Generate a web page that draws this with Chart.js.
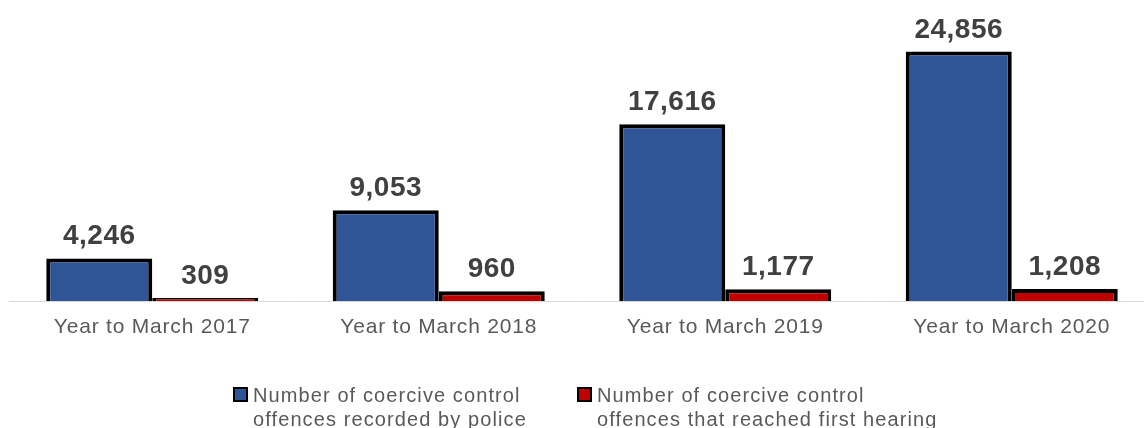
<!DOCTYPE html>
<html>
<head>
<meta charset="utf-8">
<script src="https://cdn.jsdelivr.net/npm/chart.js@4/dist/chart.umd.min.js"></script>
<style>
  html, body { margin: 0; padding: 0; background: #fff; }
  #wrap { position: relative; width: 1144px; height: 428px; overflow: hidden; }
  #legend { position: absolute; top: 383px; left: 0; width: 1144px; height: 45px; font-family: "Liberation Sans", Arial, sans-serif; font-size: 20px; line-height: 24px; letter-spacing: 1.1px; color: #595959; }
  .item { position: absolute; top: 0; }
  .box { position: absolute; left: 0; top: 4px; width: 11px; height: 11px; border: 2px solid #000; }
  .txt { position: absolute; left: 20px; top: 0; white-space: nowrap; }
</style>
</head>
<body>
<div id="wrap">
  <canvas id="chart" width="1155" height="428"></canvas>
  <div id="legend"></div>
</div>
<script>
// data
var categories = ["Year to March 2017", "Year to March 2018", "Year to March 2019", "Year to March 2020"];
var recorded = [4246, 9053, 17616, 24856];
var firstHearing = [309, 960, 1177, 1208];
var seriesNames = [
    ["Number of coercive control", "offences recorded by police"],
    ["Number of coercive control", "offences that reached first hearing"]
];
var seriesColors = ["#2F5597", "#C00000"];

var font = "'Liberation Sans', Arial, sans-serif";

// a little letter spacing for the tick labels, like the original
var spacing = {
    id: "spacing",
    beforeDraw: function(chart) { chart.ctx.letterSpacing = "0.8px"; }
};

// value labels above bars
var barLabels = {
    id: "barLabels",
    afterDatasetsDraw: function(chart) {
        var ctx = chart.ctx;
        ctx.save();
        ctx.letterSpacing = "0.5px";
        ctx.font = "bold 28px " + font;
        ctx.fillStyle = "#404040";
        ctx.textAlign = "center";
        ctx.textBaseline = "alphabetic";
        chart.data.datasets.forEach(function(ds, i) {
            var meta = chart.getDatasetMeta(i);
            meta.data.forEach(function(bar, j) {
                ctx.fillText(ds.data[j].toLocaleString("en-GB"), bar.x, bar.y - 14);
            });
        });
        ctx.restore();
    }
};

var ctx = document.getElementById("chart").getContext("2d");
var chart = new Chart(ctx, {
    type: "bar",
    data: {
        labels: categories,
        datasets: [
            {
                label: seriesNames[0].join(" "),
                data: recorded,
                backgroundColor: seriesColors[0],
                borderColor: "#000",
                borderWidth: 4,
                borderSkipped: "bottom"
            },
            {
                label: seriesNames[1].join(" "),
                data: firstHearing,
                backgroundColor: seriesColors[1],
                borderColor: "#000",
                borderWidth: 4,
                borderSkipped: "bottom"
            }
        ]
    },
    options: {
        responsive: false,
        animation: false,
        layout: { padding: { left: 9, right: 0, top: 0, bottom: 0 } },
        categoryPercentage: 0.74,
        barPercentage: 1,
        plugins: {
            legend: { display: false },
            tooltip: { enabled: false }
        },
        scales: {
            x: {
                grid: { display: false, drawTicks: false },
                border: { display: true, color: "#d9d9d9", width: 1 },
                ticks: { color: "#595959", font: { family: font, size: 21 }, padding: 14, maxRotation: 0 },
                afterFit: function(scale) { scale.height = 127; }
            },
            y: {
                display: false,
                min: 0,
                max: 30000
            }
        }
    },
    plugins: [spacing, barLabels]
});

// legend below chart
var legendLeft = [233, 577];
var legend = document.getElementById("legend");
seriesNames.forEach(function(lines, i) {
    var item = document.createElement("div");
    item.className = "item";
    item.style.left = legendLeft[i] + "px";
    var box = document.createElement("div");
    box.className = "box";
    box.style.background = seriesColors[i];
    var txt = document.createElement("div");
    txt.className = "txt";
    txt.innerHTML = lines.join("<br>");
    item.appendChild(box);
    item.appendChild(txt);
    legend.appendChild(item);
});
</script>
</body>
</html>
